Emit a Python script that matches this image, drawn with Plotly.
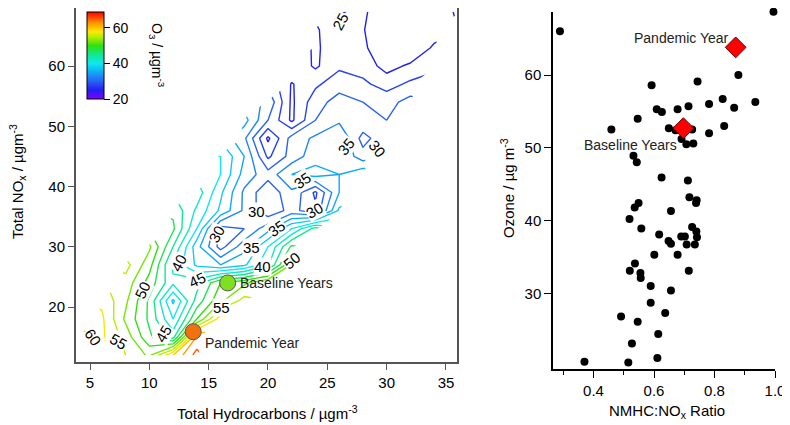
import plotly.graph_objects as go

N = None

# total hydrocarbons (x) / total NOx (y) grid of O3 (ug m-3)
hc_grid = [4, 6, 8, 10, 12, 14, 16, 18, 20, 22, 24, 26, 28, 30, 32, 34, 36]
nox_grid = [12, 15, 18, 21, 24, 27, 30, 33, 36, 39, 42, 45, 48, 51, 54, 57, 60, 63, 66, 69]
o3_grid = [
    [N, N, 55, 52, 60, 66, N, N, N, N, N, N, N, N, N, N, N],
    [62, 58, 54, 48, 44, 63, N, N, N, N, N, N, N, N, N, N, N],
    [N, 58, 52, 47, 40, 50, 59, N, N, N, N, N, N, N, N, N, N],
    [N, 57, 53, 47, 37, 46, 52, 56, N, N, N, N, N, N, N, N, N],
    [N, N, 54, 49, 43, 44, 50, 52, 55, N, N, N, N, N, N, N, N],
    [N, N, 56, 51, 42, 37, 35, 37, 42, 53, N, N, N, N, N, N, N],
    [N, N, N, 53, 45, 36, 29, 34, 40, 48, N, N, N, N, N, N, N],
    [N, N, N, N, 48, 40, 29, 30, 34, 40, 46, N, N, N, N, N, N],
    [N, N, N, N, 47, 42, 37, 32, 28, 31, 28, 38, N, N, N, N, N],
    [N, N, N, N, N, 44, 38, 32, 28, 32, 27, 35, N, N, N, N, N],
    [N, N, N, N, N, N, 40, 34, 31, 35, 36, 35, 37, N, N, N, N],
    [N, N, N, N, N, N, 40, 35, 27, 31, 34, 35, 31, N, N, N, N],
    [N, N, N, N, N, N, N, 33, 24.5, 31, 33, 35, 29, 32, N, N, N],
    [N, N, N, N, N, N, N, 36, 30, 24.5, 30, 32, 32, 30, N, N, N],
    [N, N, N, N, N, N, N, N, 32, 24.5, 29, 31, 30, 29, 31, N, N],
    [N, N, N, N, N, N, N, N, N, 24.8, 27, 29, 28, 26.5, 28, N, N],
    [N, N, N, N, N, N, N, N, N, 27, 24.6, 27, 26.5, 24, 25.5, 27, N],
    [N, N, N, N, N, N, N, N, N, N, 24.6, 26.5, 25.5, 23, 22.5, 25.5, N],
    [N, N, N, N, N, N, N, N, N, N, 24.7, 26.5, 25.2, 22.5, 22, 23.5, N],
    [N, N, N, N, N, N, N, N, N, N, N, 24.8, 25.5, 23, 22, 23, 25.5],
]

# period means on the contour map
period_names = ["Baseline Years", "Pandemic Year"]
period_hc = [16.6, 13.7]
period_nox = [24.0, 15.9]
period_colors = ["#7fe01e", "#f0720f"]

# right panel: NMHC:NOx ratio vs ozone
ratio = [0.289, 0.995, 0.879, 0.744, 0.592, 0.626, 0.609, 0.678, 0.714, 0.782,
         0.827, 0.865, 0.935, 0.546, 0.459, 0.649, 0.671, 0.726, 0.691, 0.707,
         0.730, 0.782, 0.832, 0.532, 0.543, 0.625, 0.712, 0.717, 0.741, 0.739,
         0.656, 0.549, 0.536, 0.519, 0.558, 0.617, 0.690, 0.702, 0.726, 0.740,
         0.742, 0.735, 0.708, 0.648, 0.656, 0.601, 0.678, 0.537, 0.520, 0.555,
         0.556, 0.715, 0.589, 0.656, 0.589, 0.491, 0.637, 0.546, 0.614, 0.527,
         0.611, 0.370, 0.515]
ozone = [66.0, 68.7, 60.0, 59.1, 58.6, 54.9, 55.3, 55.3, 55.7, 56.0,
         56.7, 55.5, 56.3, 54.0, 52.5, 52.7, 52.4, 52.5, 51.2, 50.5,
         50.6, 52.0, 53.0, 48.9, 48.0, 45.9, 45.5, 43.2, 42.8, 42.4,
         41.3, 42.4, 41.8, 40.2, 38.9, 38.1, 37.8, 37.8, 39.1, 38.5,
         37.7, 36.7, 36.7, 37.2, 36.8, 35.3, 35.3, 34.1, 33.1, 32.8,
         32.1, 33.1, 31.0, 30.4, 28.7, 26.8, 27.3, 26.1, 24.4, 23.1,
         21.1, 20.6, 20.5]
period_ratio = [0.697, 0.870]
period_ozone = [52.7, 63.8]

# contour labels as printed on the map: text, hydrocarbons, NOx, angle
contour_labels = [
    ("25", 26.1, 67.4, -62), ("35", 26.6, 46.6, -50), ("30", 29.2, 46.3, 50),
    ("35", 22.9, 41.0, -35), ("30", 23.9, 36.1, -30), ("30", 19.0, 35.8, 0),
    ("30", 15.7, 32.2, -62), ("35", 20.7, 33.1, -35), ("35", 18.6, 29.9, 0),
    ("40", 19.5, 26.8, 0), ("50", 22.0, 27.8, -40), ("40", 12.5, 27.4, -62),
    ("45", 14.1, 24.5, -25), ("50", 9.4, 22.8, -65), ("55", 16.1, 20.0, 0),
    ("60", 5.3, 15.0, 55), ("55", 7.4, 14.2, 30), ("45", 11.2, 15.6, -60),
]

# rainbow colour table, by O3 value
color_stops = [
    (20, "#8000ff"), (25, "#2020f0"), (30, "#2a62f5"), (35, "#10a8f8"),
    (40, "#10e8f0"), (45, "#10e890"), (50, "#30e010"), (55, "#b8ee00"),
    (58, "#ffe800"), (63, "#ff9000"), (65, "#ff6000"), (69, "#ff0000"),
]


def scale_for(lo, hi):
    return [[(v - lo) / (hi - lo), c] for v, c in color_stops if lo <= v <= hi]


# the page body has an 8 px margin, so place things by page pixel
W, H = 782, 417


def px_x(px):
    return (px - 8) / W


def px_y(py):
    return (H + 8 - py) / H


FONT = "Arial, Liberation Sans, sans-serif"

fig = go.Figure()

fig.add_contour(
    x=hc_grid, y=nox_grid, z=o3_grid, xaxis="x", yaxis="y",
    colorscale=scale_for(25, 65), showscale=False,
    contours=dict(coloring="lines", start=25, end=65, size=2.5, showlabels=False),
    line=dict(width=1.4, smoothing=0), hoverinfo="skip",
)
# colour bar only
fig.add_scatter(
    x=[None], y=[None], xaxis="x", yaxis="y", mode="markers", showlegend=False,
    marker=dict(
        color=[20], cmin=20, cmax=69, colorscale=scale_for(20, 69), showscale=True,
        colorbar=dict(
            x=px_x(87), xanchor="left", y=px_y(12), yanchor="top",
            thickness=17, len=87 / H, lenmode="fraction", xpad=0, ypad=0,
            outlinewidth=1, outlinecolor="black",
            tickvals=[20, 40, 60], ticks="outside", ticklen=6, tickcolor="black",
            tickfont=dict(size=14, color="black", family=FONT),
        ),
    ),
)
fig.add_scatter(
    x=period_hc, y=period_nox, xaxis="x", yaxis="y", mode="markers",
    marker=dict(size=16, color=period_colors, line=dict(color="#555555", width=1)),
    showlegend=False,
)
fig.add_scatter(
    x=ratio, y=ozone, xaxis="x2", yaxis="y2", mode="markers", cliponaxis=False,
    marker=dict(size=8, color="black"), showlegend=False,
)
fig.add_scatter(
    x=period_ratio, y=period_ozone, xaxis="x2", yaxis="y2", mode="markers",
    cliponaxis=False,
    marker=dict(size=16, symbol="diamond", color="#ff0000",
                line=dict(color="#700000", width=1)),
    showlegend=False,
)

lab_font = dict(size=15, color="black", family=FONT)
for txt, lx, ly, ang in contour_labels:
    fig.add_annotation(x=lx, y=ly, xref="x", yref="y", text=txt, textangle=ang,
                       showarrow=False, bgcolor="white", borderpad=0, font=lab_font)

ann_font = dict(size=14, color="#222222", family=FONT)
fig.add_annotation(x=17.5, y=period_nox[0], xref="x", yref="y", text=period_names[0],
                   showarrow=False, xanchor="left", font=ann_font)
fig.add_annotation(x=14.5, y=14.1, xref="x", yref="y", text=period_names[1],
                   showarrow=False, xanchor="left", font=ann_font)
fig.add_annotation(x=0.853, y=65.1, xref="x2", yref="y2", text=period_names[1],
                   showarrow=False, xanchor="right", font=ann_font)
fig.add_annotation(x=0.684, y=50.4, xref="x2", yref="y2", text=period_names[0],
                   showarrow=False, xanchor="right", font=ann_font)

# axis and colour bar titles
title_font = dict(size=15, color="black", family=FONT)
titles = [
    ("Total Hydrocarbons / µgm<sup>-3</sup>", 267, 412, 0, title_font),
    ("Total NO<sub>x</sub> / µgm<sup>-3</sup>", 18, 182, -90, title_font),
    ("NMHC:NO<sub>x</sub> Ratio", 667, 411, 0, title_font),
    ("Ozone / µg m<sup>-3</sup>", 507, 188, -90, title_font),
    ("O<sub>3</sub> / µgm<sup>-3</sup>", 157, 55, 90,
     dict(size=14, color="black", family=FONT)),
]
for txt, tx, ty, ang, fnt in titles:
    fig.add_annotation(x=px_x(tx), y=px_y(ty), xref="paper", yref="paper",
                       xanchor="center", yanchor="middle", text=txt, textangle=ang,
                       showarrow=False, font=fnt)

frame = dict(showgrid=False, zeroline=False, showline=True, mirror=True, automargin=False,
             linecolor="#555555", linewidth=2, ticks="outside", ticklen=6,
             tickcolor="#555555", tickfont=dict(size=15, color="black", family=FONT))
plain = dict(showgrid=False, zeroline=False, showline=True, automargin=False,
             linecolor="black", linewidth=1.5, ticks="outside", ticklen=7,
             tickcolor="black", tickfont=dict(size=15, color="black", family=FONT))
fig.update_layout(
    width=W, height=H,
    margin=dict(l=0, r=0, t=0, b=0),
    paper_bgcolor="white", plot_bgcolor="white",
    font=dict(family=FONT, size=15, color="black"),
    xaxis=dict(domain=[px_x(76), px_x(457)], range=[3.82, 35.93],
               tickvals=[5, 10, 15, 20, 25, 30, 35], anchor="y", **frame),
    yaxis=dict(domain=[px_y(362), 1.0], range=[10.87, 69.63],
               tickvals=[20, 30, 40, 50, 60], anchor="x", **frame),
    xaxis2=dict(domain=[px_x(553), px_x(775)], range=[0.266, 1.0], anchor="y2",
                tickvals=[0.4, 0.6, 0.8, 1.0], ticktext=["0.4", "0.6", "0.8", "1.0"],
                minor=dict(tickvals=[0.3, 0.5, 0.7, 0.9], ticks="outside", ticklen=4,
                           tickcolor="black"),
                **plain),
    yaxis2=dict(domain=[px_y(369), px_y(11.7)], range=[19.6, 68.7], anchor="x2",
                tickvals=[30, 40, 50, 60], **plain),
)

fig.write_html("out.html")
